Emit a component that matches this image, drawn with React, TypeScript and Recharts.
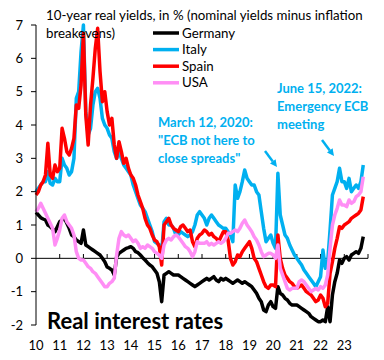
import { Line, LineChart, ReferenceLine, XAxis, YAxis } from "recharts";

// sample dates: ten points per year, year + k/10
const years = [2010, 2011, 2012, 2013, 2014, 2015, 2016, 2017, 2018, 2019, 2020, 2021, 2022, 2023];
const yTicks = [-2, -1, 0, 1, 2, 3, 4, 5, 6, 7];
const axisYears = [2011, 2012, 2013, 2014, 2015, 2016, 2017, 2018, 2019, 2020, 2021, 2022, 2023, 2024];

const germany = [
  [1.38, 1.3, 1.22, 1.18, 1.15, 1.0, 0.95, 0.88, 0.8, 0.95],
  [1.1, 1.15, 1.2, 1.05, 0.9, 0.7, 0.65, 0.55, 0.5, 0.45],
  [0.85, 0.4, 0.35, 0.3, 0.25, 0.2, 0.15, 0.1, 0.0, -0.1],
  [-0.26, -0.3, -0.35, -0.5, 0.04, 0.15, 0.2, 0.25, 0.3, 0.32],
  [0.35, 0.3, 0.2, 0.17, 0.1, 0.02, -0.05, -0.13, -0.2, -0.25],
  [-0.35, -0.45, -0.7, -1.3, -0.5, -0.45, -0.4, -0.45, -0.5, -0.5],
  [-0.5, -0.55, -0.6, -0.65, -0.7, -0.75, -0.8, -0.85, -0.8, -0.75],
  [-0.7, -0.65, -0.6, -0.65, -0.6, -0.55, -0.65, -0.7, -0.6, -0.65],
  [-0.6, -0.65, -0.7, -0.75, -0.7, -0.65, -0.7, -0.75, -0.7, -0.75],
  [-0.8, -0.85, -0.95, -1.05, -1.2, -1.3, -1.55, -1.6, -1.4, -1.3],
  [-1.45, -1.5, -0.85, -1.05, -1.1, -1.2, -1.25, -1.35, -1.4, -1.4],
  [-1.4, -1.45, -1.5, -1.55, -1.6, -1.65, -1.75, -1.8, -1.85, -1.9],
  [-1.9, -1.85, -1.9, -1.45, -1.9, -1.1, -0.7, -0.45, -0.05, -0.15],
  [0.0, 0.05, -0.05, 0.1, 0.15, 0.2, 0.15, 0.3, 0.65]
];

const italy = [
  [2.0, 2.1, 2.2, 2.3, 2.3, 2.6, 2.25, 2.2, 2.4, 2.3],
  [2.3, 3.0, 2.8, 2.7, 2.5, 2.6, 3.0, 4.8, 5.0, 6.2],
  [7.0, 4.4, 3.7, 3.9, 4.6, 5.0, 5.1, 4.8, 4.2, 4.0],
  [3.9, 3.7, 3.6, 3.2, 3.0, 3.2, 3.0, 2.8, 2.7, 2.6],
  [2.5, 2.2, 2.0, 1.8, 1.6, 1.5, 1.4, 1.2, 1.0, 0.8],
  [0.5, 0.45, 0.4, 0.2, 1.1, 1.2, 1.0, 1.0, 0.9, 0.7],
  [0.7, 0.8, 0.75, 0.7, 0.65, 0.7, 0.8, 1.0, 1.3, 1.4],
  [1.3, 1.2, 1.0, 1.2, 1.3, 1.2, 1.1, 1.0, 0.95, 0.9],
  [0.9, 0.8, 0.7, 0.5, 2.2, 1.8, 2.0, 2.3, 2.65, 2.4],
  [2.3, 2.2, 2.2, 2.0, 1.9, 1.4, 0.9, 0.5, 0.6, 0.7],
  [0.45, 0.3, 2.55, 1.3, 1.0, 0.7, 0.6, 0.4, 0.25, 0.1],
  [0.0, -0.1, -0.2, -0.35, -0.45, -0.55, -0.65, -0.75, -0.85, -0.7],
  [-0.55, 0.25, -0.3, -0.1, 0.85, 1.9, 2.1, 2.3, 2.7, 2.3],
  [2.3, 2.1, 2.4, 2.0, 2.1, 2.2, 2.1, 2.3, 2.8]
];

const spain = [
  [1.9, 2.0, 2.2, 2.3, 2.5, 3.45, 2.5, 2.4, 2.8, 2.6],
  [2.7, 3.9, 3.6, 3.2, 3.1, 3.3, 3.6, 4.6, 4.5, 5.2],
  [6.75, 4.3, 3.4, 4.6, 5.4, 6.3, 6.9, 5.6, 4.7, 5.0],
  [4.4, 4.0, 4.2, 3.4, 3.0, 3.5, 3.2, 2.85, 3.0, 2.7],
  [2.5, 2.4, 2.2, 1.9, 1.7, 1.5, 1.2, 1.0, 0.9, 0.7],
  [0.55, 0.5, 0.35, -0.2, 1.0, 1.1, 1.2, 1.0, 0.9, 0.85],
  [0.8, 0.95, 1.0, 0.9, 0.8, 0.85, 0.5, 0.35, 0.6, 0.7],
  [0.75, 0.85, 0.8, 0.7, 0.75, 0.65, 0.6, 0.5, 0.65, 0.8],
  [0.8, 0.55, 0.0, -0.2, -0.1, 0.1, 0.05, 0.2, 0.3, 0.4],
  [0.5, 0.3, 0.0, -0.1, -0.3, -0.5, -0.7, -0.85, -0.9, -0.8],
  [-0.8, -0.85, 0.7, 0.0, -0.3, -0.5, -0.6, -0.7, -0.75, -0.85],
  [-0.9, -0.85, -0.8, -0.9, -1.0, -1.05, -1.1, -1.2, -1.3, -1.25],
  [-1.1, -1.2, -1.45, -1.35, -0.45, -0.1, 0.3, 0.6, 0.95, 0.9],
  [1.0, 1.05, 1.1, 1.2, 1.25, 1.3, 1.35, 1.45, 1.85]
];

const usa = [
  [1.4, 1.5, 1.65, 1.5, 1.35, 1.2, 1.05, 0.9, 0.4, 0.6],
  [0.85, 1.2, 1.3, 1.1, 1.0, 0.9, 0.7, 0.2, 0.0, -0.05],
  [-0.05, -0.15, -0.25, -0.3, -0.4, -0.45, -0.55, -0.65, -0.75, -0.85],
  [-0.85, -0.75, -0.7, -0.6, 0.1, 0.6, 0.8, 0.7, 0.65, 0.7],
  [0.6, 0.5, 0.55, 0.45, 0.3, 0.35, 0.3, 0.4, 0.35, 0.3],
  [0.2, 0.15, 0.1, 0.0, 0.4, 0.55, 0.6, 0.55, 0.65, 0.7],
  [0.65, 0.55, 0.45, 0.35, 0.3, 0.2, 0.05, 0.2, 0.5, 0.45],
  [0.45, 0.45, 0.5, 0.4, 0.45, 0.4, 0.45, 0.5, 0.45, 0.5],
  [0.6, 0.75, 0.75, 0.8, 0.85, 0.8, 0.9, 1.05, 1.15, 1.0],
  [0.9, 0.8, 0.65, 0.55, 0.4, 0.2, 0.05, 0.1, 0.15, 0.15],
  [0.1, 0.0, 0.4, -0.3, -0.5, -0.7, -0.9, -0.95, -0.9, -0.9],
  [-0.9, -0.7, -0.65, -0.7, -0.8, -0.9, -1.0, -0.95, -0.9, -0.95],
  [-0.85, -0.9, -0.8, -0.5, 0.3, 1.0, 1.3, 1.5, 1.75, 1.6],
  [1.6, 1.55, 1.75, 1.65, 1.7, 1.85, 1.9, 2.0, 2.45]
];

const series = [
  { key: "germany", name: "Germany", color: "#000000" },
  { key: "italy", name: "Italy", color: "#00B0F0" },
  { key: "spain", name: "Spain", color: "#FF0000" },
  { key: "usa", name: "USA", color: "#FF8EF5" }
];

const rows = years.flatMap((year, i) =>
  germany[i].map((_, k) => ({
    t: year + k / 10,
    germany: germany[i][k],
    italy: italy[i][k],
    spain: spain[i][k],
    usa: usa[i][k]
  }))
);

const FONT = "Lato, 'Open Sans', sans-serif";
const BLUE = "#00B0F0";

function Arrow({ x1, y1, x2, y2 }: { x1: number; y1: number; x2: number; y2: number }) {
  const dx = x2 - x1;
  const dy = y2 - y1;
  const len = Math.hypot(dx, dy);
  const ux = dx / len;
  const uy = dy / len;
  const head = 7;
  const bx = x2 - ux * head;
  const by = y2 - uy * head;
  const px = -uy * 3.5;
  const py = ux * 3.5;
  return (
    <g>
      <line x1={x1} y1={y1} x2={bx} y2={by} stroke={BLUE} strokeWidth={2.5} />
      <polygon points={`${x2},${y2} ${bx + px},${by + py} ${bx - px},${by - py}`} fill={BLUE} />
    </g>
  );
}

export default function App() {
  return (
    <div style={{ position: "absolute", left: 0, top: 0, width: 384, height: 360, background: "#fff", fontFamily: FONT }}>
      <LineChart width={384} height={360} data={rows} margin={{ top: 25, right: 16, bottom: 0, left: 0 }}>
        <XAxis
          dataKey="t"
          type="number"
          domain={[2010, 2024]}
          ticks={years}
          tickFormatter={v => String(v).slice(2)}
          axisLine={false}
          tickLine={false}
          tickSize={6}
          tickMargin={10}
          height={35}
          interval={0}
          tick={{ fill: "#000", fontSize: 13, fontFamily: FONT }}
        />
        <YAxis
          type="number"
          domain={[-2, 7]}
          ticks={yTicks}
          width={36}
          tickSize={5}
          tickMargin={8}
          interval={0}
          axisLine={{ stroke: "#000" }}
          tickLine={{ stroke: "#000" }}
          tick={{ fill: "#000", fontSize: 13, fontFamily: FONT }}
        />
        <ReferenceLine y={0} stroke="#000" strokeWidth={1} />
        {axisYears.map(yr => (
          <ReferenceLine key={yr} segment={[{ x: yr, y: 0 }, { x: yr, y: 0.13 }]} stroke="#000" strokeWidth={1} />
        ))}
        {series.map(s => (
          <Line
            key={s.key}
            type="linear"
            dataKey={s.key}
            name={s.name}
            stroke={s.color}
            strokeWidth={3.5}
            strokeLinejoin="round"
            dot={false}
            isAnimationActive={false}
          />
        ))}
      </LineChart>
      <svg width={384} height={360} style={{ position: "absolute", left: 0, top: 0, pointerEvents: "none" }}>
        <g fontFamily={FONT} fontSize={13.3} fill="#000">
          <text x={46} y={20}>10-year real yields, in % (nominal yields minus inflation</text>
          <text x={46} y={38}>breakevens)</text>
        </g>
        {series.map((s, i) => (
          <g key={s.key}>
            <line x1={153} x2={179} y1={33 + i * 16.6} y2={33 + i * 16.6} stroke={s.color} strokeWidth={3.5} />
            <text x={182} y={33 + i * 16.6 + 4.5} fontFamily={FONT} fontSize={13.3} fill="#000">
              {s.name}
            </text>
          </g>
        ))}
        <g fontFamily={FONT} fontSize={13} fontWeight="bold" fill={BLUE}>
          <text x={158} y={127}>March 12, 2020:</text>
          <text x={158} y={145}>"ECB not here to</text>
          <text x={158} y={163}>close spreads"</text>
          <text x={277} y={93}>June 15, 2022:</text>
          <text x={277} y={111}>Emergency ECB</text>
          <text x={277} y={129}>meeting</text>
        </g>
        <Arrow x1={265} y1={151} x2={277} y2={167} />
        <Arrow x1={322} y1={140} x2={334} y2={156} />
        <text x={47} y={329} fontFamily={FONT} fontSize={22} fontWeight="bold" fill="#000">
          Real interest rates
        </text>
      </svg>
    </div>
  );
}
